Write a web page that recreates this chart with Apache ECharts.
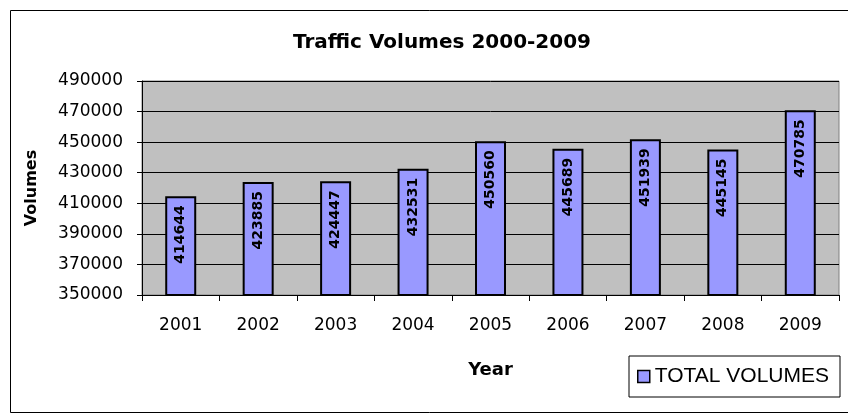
<!DOCTYPE html>
<html>
<head>
<meta charset="utf-8">
<script src="https://cdn.jsdelivr.net/npm/echarts@6/dist/echarts.min.js"></script>
<style>
html,body{margin:0;padding:0;background:#fff;}
#chart{width:848px;height:418px;}
</style>
</head>
<body>
<div id="chart"></div>
<script>
const categories = ['2001','2002','2003','2004','2005','2006','2007','2008','2009'];
const totalVolumes = [414644, 423885, 424447, 432531, 450560, 445689, 451939, 445145, 470785];
const seriesName = 'TOTAL VOLUMES';

const chart = echarts.init(document.getElementById('chart'), null, {renderer: 'canvas'});
const dv = 'DejaVu Sans, sans-serif';
const lib = 'Liberation Sans, Arial, sans-serif';
chart.setOption({
  animation: false,
  backgroundColor: '#fff',
  graphic: [{
    type: 'rect', left: 8, top: 8, shape: {width: 900, height: 402},
    style: {fill: 'none', stroke: '#000', lineWidth: 1}, silent: true, z: -1
  }],
  title: {
    text: 'Traffic Volumes 2000-2009', left: 437, top: 28, textAlign: 'center',
    textStyle: {fontFamily: dv, fontWeight: 'bold', fontSize: 20, color: '#000'}
  },
  legend: {
    data: [seriesName], left: 629, top: 356, orient: 'horizontal',
    borderColor: '#000', borderWidth: 1, borderRadius: 0,
    padding: [10, 11, 10, 8], itemWidth: 12, itemHeight: 12, itemGap: 5,
    icon: 'rect',
    itemStyle: {borderColor: '#000', borderWidth: 1.5},
    textStyle: {fontFamily: lib, fontSize: 21, color: '#000', padding: [0,0,0,0]}
  },
  grid: {
    left: 142, right: 9, top: 81, bottom: 123,
    show: true, backgroundColor: '#c0c0c0', borderColor: '#808080', borderWidth: 1
  },
  xAxis: {
    type: 'category', data: categories,
    name: 'Year', nameLocation: 'middle', nameGap: 66,
    nameTextStyle: {fontFamily: dv, fontWeight: 'bold', fontSize: 18, color: '#000'},
    axisLine: {lineStyle: {color: '#000', width: 1}},
    axisTick: {show: true, length: 6, lineStyle: {color: '#000'}},
    axisLabel: {fontFamily: dv, fontSize: 17, color: '#000', margin: 22}
  },
  yAxis: {
    type: 'value', min: 350000, max: 490000, interval: 20000,
    name: 'Volumes', nameLocation: 'middle', nameGap: 102,
    nameTextStyle: {fontFamily: dv, fontWeight: 'bold', fontSize: 16, color: '#000'},
    axisLine: {show: true, lineStyle: {color: '#000', width: 1}},
    axisTick: {show: true, length: 5, lineStyle: {color: '#000'}},
    axisLabel: {fontFamily: dv, fontSize: 17, color: '#000', margin: 19, formatter: v => String(v)},
    splitLine: {show: true, lineStyle: {color: '#000', width: 1}}
  },
  series: [{
    name: seriesName, type: 'bar', data: totalVolumes, barWidth: 31,
    itemStyle: {color: '#9999ff', borderColor: '#000', borderWidth: 2},
    label: {
      show: true, position: 'insideTop', rotate: 90, align: 'right', verticalAlign: 'middle',
      distance: 9, fontFamily: dv, fontWeight: 'bold', fontSize: 14, color: '#000'
    }
  }]
});
</script>
</body>
</html>
